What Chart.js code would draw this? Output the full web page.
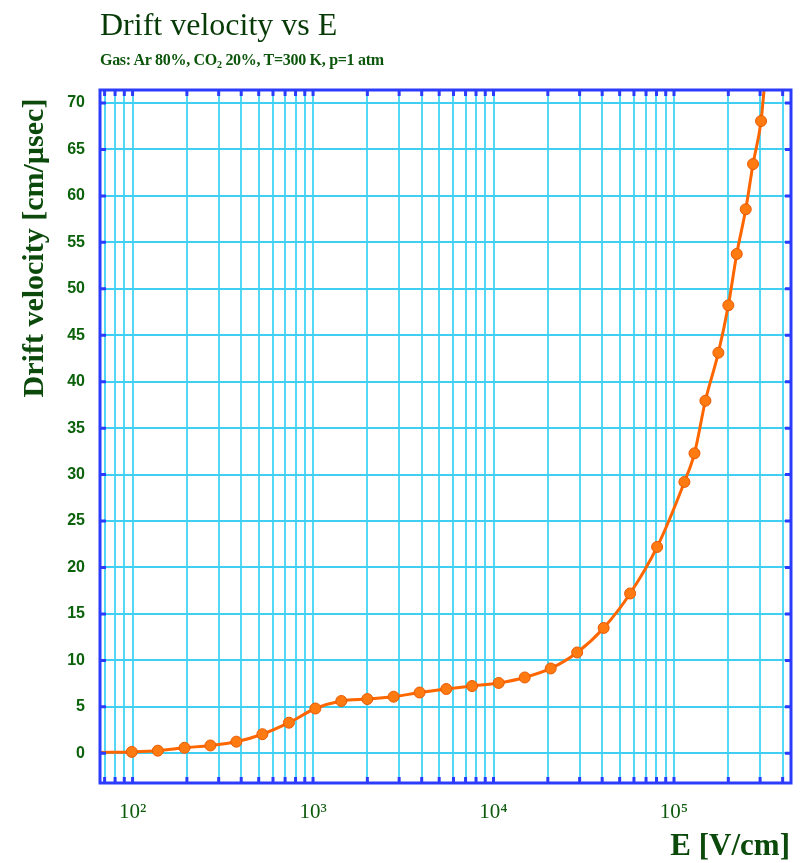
<!DOCTYPE html>
<html>
<head>
<meta charset="utf-8">
<script src="https://cdn.jsdelivr.net/npm/chart.js@4/dist/chart.umd.min.js"></script>
<style>
  body { margin: 0; background: #fff; }
  #wrap { position: relative; width: 801px; height: 863px; }
  #chart { position: absolute; left: 0; top: 0; }
  .lbl { position: absolute; white-space: nowrap; font-family: "Liberation Serif", "DejaVu Serif", serif; }
  #title { left: 100px; top: 8px; font-size: 32px; line-height: 32px; color: #073a07; }
  #subtitle { left: 100px; top: 52px; font-size: 16px; line-height: 16px; font-weight: bold; color: #0c560c; letter-spacing: -0.3px; }
  #subtitle sub { font-size: 10px; vertical-align: -3px; line-height: 0; }
  #ytitle { left: -127px; top: 233px; width: 320px; text-align: center; font-size: 30px; line-height: 30px; font-weight: bold; color: #0b4a0b; transform: rotate(-90deg); }
  #xtitle { right: 11px; top: 829px; font-size: 31px; line-height: 31px; font-weight: bold; color: #0b4a0b; }
</style>
</head>
<body>
<div id="wrap">
  <canvas id="chart" width="801" height="863"></canvas>
  <div class="lbl" id="title">Drift velocity vs E</div>
  <div class="lbl" id="subtitle">Gas: Ar 80%, CO<sub>2</sub> 20%, T=300 K, p=1 atm</div>
  <div class="lbl" id="ytitle">Drift velocity [cm/µsec]</div>
  <div class="lbl" id="xtitle">E [V/cm]</div>
</div>
<script>
// E field [V/cm] and drift velocity [cm/usec].
// first and last entries are where the curve leaves the frame (no marker there)
const fieldE = [66, 99, 138, 194, 270, 376, 524, 735, 1030, 1434, 1998, 2795, 3893, 5472, 7603,
  10686, 14887, 20740, 29075, 40760, 57140, 80630, 114200, 129900, 149300, 176200,
  200100, 222700, 249800, 274200, 303700, 315500];
const velocity = [0.08, 0.15, 0.28, 0.59, 0.84, 1.25, 2.05, 3.29, 4.82, 5.63, 5.84, 6.09, 6.54, 6.92, 7.24,
  7.57, 8.16, 9.13, 10.85, 13.49, 17.2, 22.21, 29.21, 32.29, 37.95, 43.12,
  48.22, 53.75, 58.56, 63.43, 68.06, 71.4];

// axis ticks
const decades = [100, 1000, 10000, 100000];
const decadeLabels = ['10²', '10³', '10⁴', '10⁵'];
const minorSteps = [1, 2, 3, 4, 5, 6, 7, 8, 9];
const yTicks = [0, 5, 10, 15, 20, 25, 30, 35, 40, 45, 50, 55, 60, 65, 70];
const xMin = 66, xMax = 445000;
const yMin = -3.2, yMax = 71.4;

let xTicks = [];
[10, 100, 1000, 10000, 100000].forEach(d => {
  minorSteps.forEach(m => {
    const v = d * m;
    if (v >= xMin && v <= xMax) xTicks.push(v);
  });
});

const frame = {
  id: 'frame',
  afterDraw(chart) {
    const { ctx, chartArea: a, scales } = chart;
    ctx.save();
    ctx.strokeStyle = '#2c3cff';
    ctx.lineWidth = 3;
    ctx.beginPath();
    scales.x.ticks.forEach(t => {
      const px = scales.x.getPixelForValue(t.value);
      if (px < a.left + 2 || px > a.right - 2) return;
      ctx.moveTo(px, a.bottom); ctx.lineTo(px, a.bottom - 6);
      ctx.moveTo(px, a.top); ctx.lineTo(px, a.top + 6);
    });
    scales.y.ticks.forEach(t => {
      const py = scales.y.getPixelForValue(t.value);
      ctx.moveTo(a.left, py); ctx.lineTo(a.left + 6, py);
      ctx.moveTo(a.right, py); ctx.lineTo(a.right - 6, py);
    });
    ctx.stroke();
    ctx.strokeRect(a.left, a.top, a.right - a.left, a.bottom - a.top);
    ctx.restore();
  }
};

const last = fieldE.length - 1;
const ctx = document.getElementById('chart').getContext('2d');
new Chart(ctx, {
  type: 'line',
  data: {
    datasets: [{
      data: fieldE.map((e, i) => ({ x: e, y: velocity[i] })),
      borderColor: '#ff6600',
      borderWidth: 3,
      pointBackgroundColor: '#ff7a10',
      pointBorderColor: '#e85800',
      pointBorderWidth: 1,
      pointRadius: c => (c.dataIndex === 0 || c.dataIndex === last) ? 0 : 5.5,
      cubicInterpolationMode: 'monotone'
    }]
  },
  options: {
    responsive: false,
    animation: false,
    layout: { padding: { top: 90, right: 10, left: 0, bottom: 0 } },
    plugins: { legend: { display: false }, tooltip: { enabled: false } },
    scales: {
      x: {
        type: 'logarithmic',
        min: xMin,
        max: xMax,
        afterBuildTicks: s => { s.ticks = xTicks.map(v => ({ value: v })); },
        afterFit: s => { s.height = 80; },
        grid: { color: '#55d8f5', lineWidth: 2, drawTicks: false },
        border: { display: false },
        ticks: {
          autoSkip: false, maxRotation: 0, minRotation: 0, padding: 17,
          color: '#0b5a0b',
          font: { family: 'Liberation Serif', size: 21 },
          callback: v => {
            const k = decades.indexOf(v);
            return k >= 0 ? decadeLabels[k] : '';
          }
        }
      },
      y: {
        min: yMin,
        max: yMax,
        afterBuildTicks: s => { s.ticks = yTicks.map(v => ({ value: v })); },
        afterFit: s => { s.width = 100; },
        grid: { color: '#3fcff2', lineWidth: 2, drawTicks: false },
        border: { display: false },
        ticks: {
          padding: 15,
          color: '#0b620b',
          font: { family: 'Liberation Sans', size: 16, weight: 'bold' }
        }
      }
    }
  },
  plugins: [frame]
});
</script>
</body>
</html>
